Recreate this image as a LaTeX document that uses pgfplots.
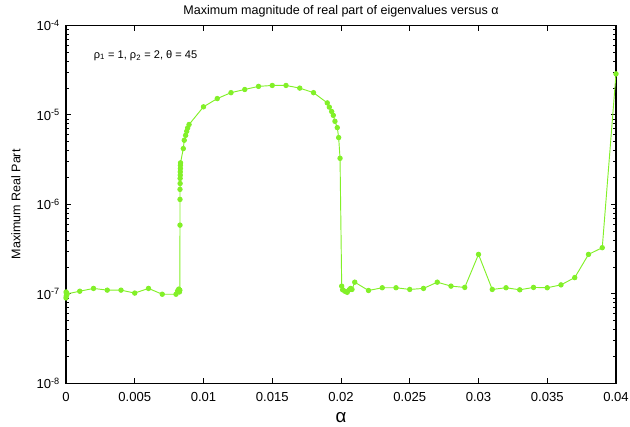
\documentclass[border=0pt]{standalone}
\usepackage{pgfplots}
\pgfplotsset{compat=1.18}
\usepackage{fontspec}
\setmainfont{Liberation Sans}
\definecolor{lgreen}{RGB}{130,240,40}
\begin{document}
\begin{tikzpicture}
\useasboundingbox (-49.5pt,-32pt) rectangle (423pt,287.5pt);
\begin{axis}[
  at={(0,0)}, anchor=south west,
  scale only axis, width=412.5pt, height=268.5pt,
  ymode=log,
  xmin=0, xmax=0.04, ymin=1e-8, ymax=1e-4,
  xtick={0,0.005,0.01,0.015,0.02,0.025,0.03,0.035,0.04},
  xticklabels={0,0.005,0.01,0.015,0.02,0.025,0.03,0.035,0.04},
  ytick={1e-8,1e-7,1e-6,1e-5,1e-4},
  yticklabels={10\textsuperscript{-8},10\textsuperscript{-7},10\textsuperscript{-6},10\textsuperscript{-5},10\textsuperscript{-4}},
  minor x tick num=0,
  tick align=inside, tick pos=both,
  major tick length=4pt, minor tick length=2.2pt,
  tick style={black, line width=0.6pt},
  axis line style={line width=0.9pt},
  ticklabel style={font=\fontsize{9.8}{11}\selectfont},
  xticklabel style={yshift=-3pt},
  yticklabel style={xshift=-1pt},
  scaled x ticks=false,
  title={Maximum magnitude of real part of eigenvalues versus α},
  title style={font=\fontsize{9.4}{11}\selectfont, yshift=-3.5pt},
  xlabel={α},
  xlabel style={font=\fontsize{14}{16}\selectfont, at={(rel axis cs:0.5,0)}, anchor=center, inner sep=0pt, yshift=-26pt},
  ylabel={Maximum Real Part},
  ylabel style={font=\fontsize{9.4}{11}\selectfont, at={(rel axis cs:0,0.5)}, anchor=center, yshift=37.5pt},
  clip=false,
]
\addplot[color=lgreen, line width=0.7pt, mark=*, mark size=1.65pt, mark options={fill=lgreen, draw=lgreen}] coordinates {
(0,0.9e-7) (0.00001,1.05e-7) (0.00002,0.95e-7) (0.00003,1.02e-7) (0.00005,0.98e-7) (0.00008,1.0e-7)
(0.001,1.07e-7) (0.002,1.15e-7) (0.003,1.10e-7) (0.004,1.10e-7) (0.005,1.02e-7)
(0.006,1.15e-7) (0.007,0.99e-7) (0.008,0.99e-7)
(0.00812,1.08e-7) (0.0082,1.13e-7) (0.00825,1.05e-7) (0.00828,1.10e-7)
(0.00829,5.86e-7) (0.00829,1.135e-6) (0.00829,1.47e-6) (0.00830,1.71e-6) (0.00830,1.95e-6)
(0.00831,2.12e-6) (0.00831,2.31e-6) (0.00832,2.51e-6) (0.00832,2.73e-6) (0.00833,2.91e-6)
(0.00853,4.2e-6) (0.0086,5.2e-6) (0.0087,5.9e-6) (0.00878,6.55e-6) (0.00885,7.15e-6) (0.00895,7.8e-6)
(0.010,1.23e-5) (0.011,1.52e-5) (0.012,1.77e-5) (0.013,1.92e-5) (0.014,2.08e-5)
(0.015,2.13e-5) (0.016,2.13e-5) (0.017,1.99e-5) (0.018,1.77e-5)
(0.019,1.36e-5) (0.01915,1.22e-5) (0.01932,1.09e-5) (0.01944,9.87e-6) (0.01956,8.47e-6)
(0.01973,7.2e-6) (0.01983,5.57e-6) (0.01993,3.27e-6)
(0.02005,1.22e-7) (0.02012,1.11e-7) (0.02028,1.07e-7) (0.02045,1.04e-7)
(0.0206,1.11e-7) (0.0207,1.15e-7) (0.0208,1.12e-7) (0.021,1.35e-7)
(0.022,1.09e-7) (0.023,1.17e-7) (0.024,1.17e-7) (0.025,1.12e-7) (0.026,1.15e-7)
(0.027,1.35e-7) (0.028,1.22e-7) (0.029,1.18e-7) (0.030,2.76e-7) (0.031,1.12e-7)
(0.032,1.17e-7) (0.033,1.11e-7) (0.034,1.18e-7) (0.035,1.17e-7) (0.036,1.26e-7)
(0.037,1.52e-7) (0.038,2.76e-7) (0.039,3.28e-7) (0.040,2.87e-5)
};
\node[anchor=west, font=\fontsize{8.3}{10}\selectfont] at (rel axis cs:0.042,0.916) {ρ\textsubscript{1} = 1, ρ\textsubscript{2} = 2, θ = 45};
\end{axis}
\end{tikzpicture}
\end{document}
